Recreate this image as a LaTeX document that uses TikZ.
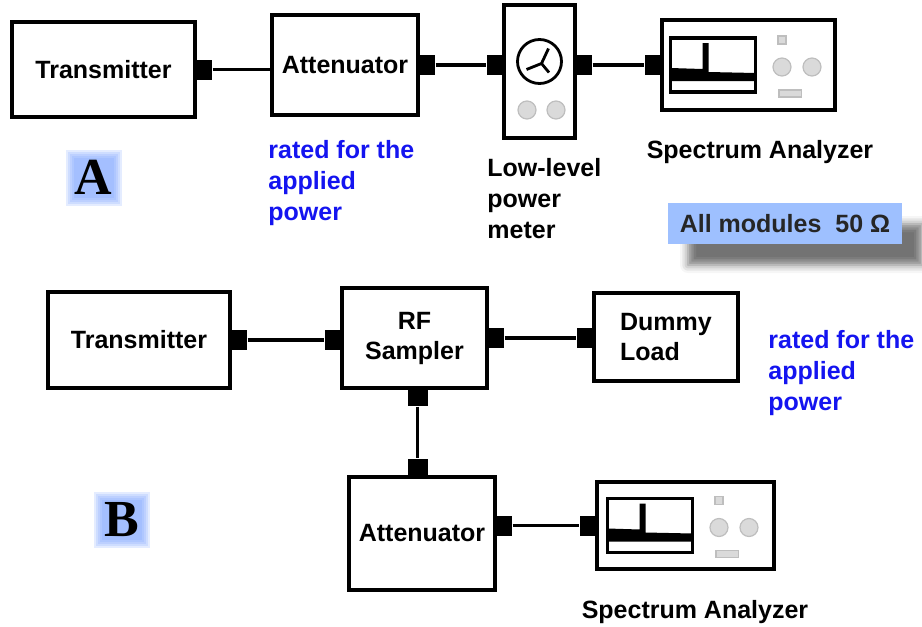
\documentclass[tikz,border=0pt]{standalone}
\usepackage{fontspec}
\setmainfont{Liberation Sans}
\newfontfamily\letterfont{Liberation Serif}
\usetikzlibrary{positioning,shadows.blur}

\definecolor{glowblue}{RGB}{120,160,255}
\definecolor{noteblue}{RGB}{158,192,255}
\definecolor{ratedblue}{RGB}{20,20,240}
\definecolor{knobgray}{RGB}{218,218,218}
\definecolor{rimgray}{RGB}{190,190,190}

\tikzset{
  box/.style={draw, line width=1.8pt, align=center, inner sep=2pt,
    font=\fontsize{12.5}{15}\selectfont\bfseries},
  port/.style={fill=black, inner sep=0pt, minimum width=7.5pt, minimum height=10pt},
  vport/.style={fill=black, inner sep=0pt, minimum width=10pt, minimum height=8pt},
  wire/.style={line width=1.6pt},
  knob/.style={fill=knobgray, draw=rimgray, line width=0.6pt},
  lbl/.style={font=\fontsize{12.5}{15.5}\selectfont\bfseries, align=left, inner sep=0pt},
  rated/.style={lbl, text=ratedblue},
  tag/.style={font=\letterfont\bfseries\fontsize{26}{28}\selectfont, inner sep=0pt},
}

% screen, trace and knobs of an analyzer, around a node centre
\newcommand{\analyzerface}[1]{%
  \begin{scope}[shift={(#1)}]
    \draw[line width=1.6pt] (-78,-27) rectangle (7,27);
    \fill (-78,3) -- (-46,4) -- (-46,-22) -- (-40,-22) -- (-40,7) -- (7,8)
      -- (7,16) -- (-78,16) -- cycle;
    \filldraw[knob] (29.5,-29) rectangle (37.5,-21);
    \filldraw[knob] (33.5,2) circle (4.5pt) (63.5,2) circle (4.5pt);
    \filldraw[knob] (30.5,25) rectangle (53,32);
  \end{scope}}

% dial and knobs of the meter
\newcommand{\meterface}[1]{%
  \begin{scope}[shift={(#1)}]
    \draw[line width=1.4pt] (0,-10) circle (11pt);
    \draw[line width=1.4pt] (9,-23) -- (2,-8) -- (-13,-2) (2,-8) -- (9.5,1);
    \filldraw[knob] (-12.5,38.5) circle (4.5pt) (16.5,38.5) circle (4.5pt);
  \end{scope}}

\begin{document}
\begin{tikzpicture}[x=0.5pt, y=-0.5pt]
\useasboundingbox (0,0) rectangle (922,627);

% setup A
\node[box, minimum width=91.5pt, minimum height=47.5pt] (txA) at (103.5,69.5) {Transmitter};
\node[box, minimum width=73pt, minimum height=50pt] (attA) at (345,65) {Attenuator};
\node[box, minimum width=35.5pt, minimum height=66.5pt] (pmA) at (539.5,71.5) {};
\node[box, minimum width=86.5pt, minimum height=45pt] (saA) at (748.5,65) {};

\node[port, anchor=west] (txAout) at (txA.east) {};
\node[port, anchor=west] (attAout) at (attA.east) {};
\node[port, anchor=east] (pmAin) at (attAout -| pmA.west) {};
\node[port, anchor=west] (pmAout) at (attAout -| pmA.east) {};
\node[port, anchor=east] (saAin) at (saA.west) {};

\draw[wire] (txAout) -- (txAout -| attA.west);
\draw[wire] (attAout) -- (pmAin);
\draw[wire] (pmAout) -- (saAin);

\meterface{pmA}
\analyzerface{saA}

\node[rated, anchor=west] (ratedA) at (268,183) {rated for the\\applied\\power};
\node[lbl, anchor=west] (pmlab) at (487,199) {Low-level\\power\\meter};
\node[lbl] (saAlab) at (760,152) {Spectrum Analyzer};

\foreach \g in {0,2,...,8}
  \fill[glowblue, opacity=0.2] (93.5-20-\g,177.5-20-\g) rectangle (93.5+20+\g,177.5+20+\g);
\node[tag] (tagA) at (93.5,177.5) {A};

\node[fill=noteblue, minimum width=117pt, minimum height=20.5pt, inner sep=0pt,
  font=\fontsize{12.5}{15}\selectfont\bfseries, text=black!85,
  blur shadow={shadow xshift=10pt, shadow yshift=-10.5pt, shadow opacity=55,
    shadow blur radius=4pt}] (note) at (785,223.5) {All modules\ \ 50 Ω};

% setup B
\node[box, minimum width=91pt, minimum height=48pt] (txB) at (139,340) {Transmitter};
\node[box, minimum width=72.5pt, minimum height=50pt] (rfB) at (414.5,338) {RF\\Sampler};
\node[box, align=left, minimum width=72pt, minimum height=44pt] (dlB) at (666,337) {Dummy\\Load};
\node[box, minimum width=73pt, minimum height=56.5pt] (attB) at (422,533.5) {Attenuator};
\node[box, minimum width=88.5pt, minimum height=43.5pt] (saB) at (685.5,525.5) {};

\node[port, anchor=west] (txBout) at (txB.east) {};
\node[port, anchor=east] (rfBin) at (txBout -| rfB.west) {};
\node[port, anchor=west] (rfBout) at (rfB.east) {};
\node[port, anchor=east] (dlBin) at (rfBout -| dlB.west) {};
\node[vport, anchor=north] (rfBdown) at ([xshift=1.5pt]rfB.south) {};
\node[vport, anchor=south] (attBup) at (rfBdown |- attB.north) {};
\node[port, anchor=west] (attBout) at (saB.west -| attB.east) {};
\node[port, anchor=east] (saBin) at (saB.west) {};

\draw[wire] (txBout) -- (rfBin);
\draw[wire] (rfBout) -- (dlBin);
\draw[wire] (rfBdown) -- (attBup);
\draw[wire] (attBout) -- (saBin);

\analyzerface{saB}

\node[rated, anchor=west] (ratedB) at (768,373) {rated for the\\applied\\power};
\node[lbl] (saBlab) at (695,612) {Spectrum Analyzer};

\foreach \g in {0,2,...,8}
  \fill[glowblue, opacity=0.2] (122-20-\g,520-20-\g) rectangle (122+20+\g,520+20+\g);
\node[tag] (tagB) at (122,520) {B};
\end{tikzpicture}
\end{document}
